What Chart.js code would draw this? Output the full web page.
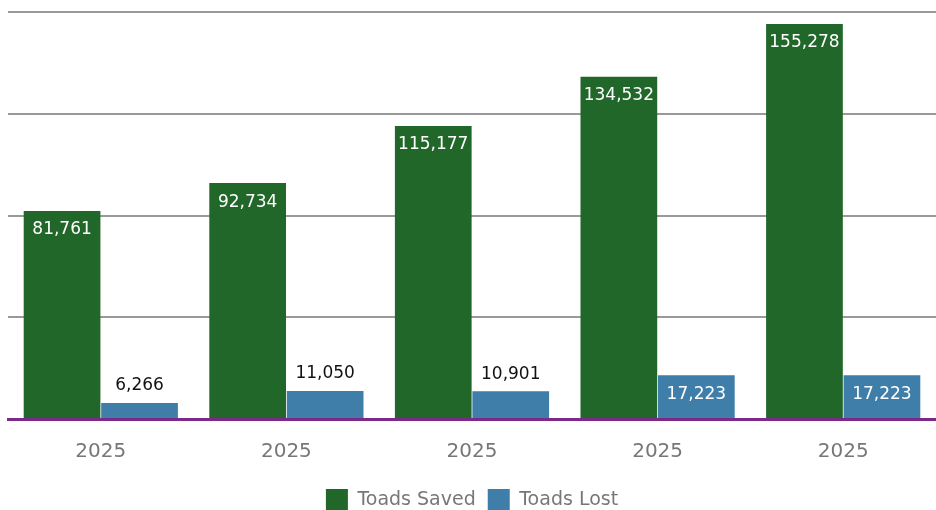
<!DOCTYPE html>
<html>
<head>
<meta charset="utf-8">
<script src="https://cdn.jsdelivr.net/npm/chart.js@4"></script>
<style>
html, body { margin: 0; padding: 0; background: #fff; }
#wrap { width: 936px; height: 510px; }
</style>
</head>
<body>
<div id="wrap"><canvas id="chartData"></canvas></div>
<script>
var labels = ['2025', '2025', '2025', '2025', '2025'];
var savedData = [81761, 92734, 115177, 134532, 155278];
var lostData = [6266, 11050, 10901, 17223, 17223];
var seriesNames = ['Toads Saved', 'Toads Lost'];

var fontFamily = '"DejaVu Sans", sans-serif';

// value labels: inside the bar when it fits, above it otherwise
var valueLabels = {
    id: 'valueLabels',
    afterDatasetsDraw(chart) {
        const ctx = chart.ctx;
        ctx.save();
        ctx.font = '17px ' + fontFamily;
        ctx.textAlign = 'center';
        ctx.textBaseline = 'middle';
        chart.data.datasets.forEach((ds, i) => {
            chart.getDatasetMeta(i).data.forEach((bar, j) => {
                const h = bar.base - bar.y;
                const txt = ds.data[j].toLocaleString('en-US');
                if (h > 36) {
                    ctx.fillStyle = '#ffffff';
                    ctx.fillText(txt, bar.x, bar.y + 19);
                } else {
                    ctx.fillStyle = '#111111';
                    ctx.fillText(txt, bar.x, bar.y - 17);
                }
            });
        });
        ctx.restore();
    }
};

var chart = new Chart(document.getElementById('chartData').getContext('2d'), {
    type: 'bar',
    data: {
        labels,
        datasets: [{
            label: seriesNames[0],
            data: savedData,
            backgroundColor: '#21672a',
            categoryPercentage: 0.835,
            barPercentage: 0.99
        }, {
            label: seriesNames[1],
            data: lostData,
            backgroundColor: '#3e7ea8',
            categoryPercentage: 0.835,
            barPercentage: 0.99
        }]
    },
    options: {
        responsive: true,
        maintainAspectRatio: false,
        animation: false,
        layout: { padding: { left: 8, top: 12, right: 0, bottom: -11 } },
        plugins: {
            legend: {
                position: 'bottom',
                labels: {
                    boxWidth: 22,
                    boxHeight: 22,
                    padding: 12,
                    color: '#777777',
                    font: { family: fontFamily, size: 19 }
                }
            },
            tooltip: { enabled: false }
        },
        scales: {
            x: {
                grid: { display: false, drawTicks: false },
                border: { color: '#7b2a8a', width: 3 },
                ticks: {
                    color: '#777777',
                    padding: 21,
                    font: { family: fontFamily, size: 20 }
                },
                afterFit: (s) => { s.height -= 8; }
            },
            y: {
                min: 0,
                max: 160000,
                ticks: { display: false, stepSize: 40000 },
                border: { display: false },
                grid: {
                    drawTicks: false,
                    color: (c) => c.tick && c.tick.value === 0 ? 'rgba(0,0,0,0)' : '#999999',
                    lineWidth: 2
                }
            }
        }
    },
    plugins: [valueLabels]
});
</script>
</body>
</html>
